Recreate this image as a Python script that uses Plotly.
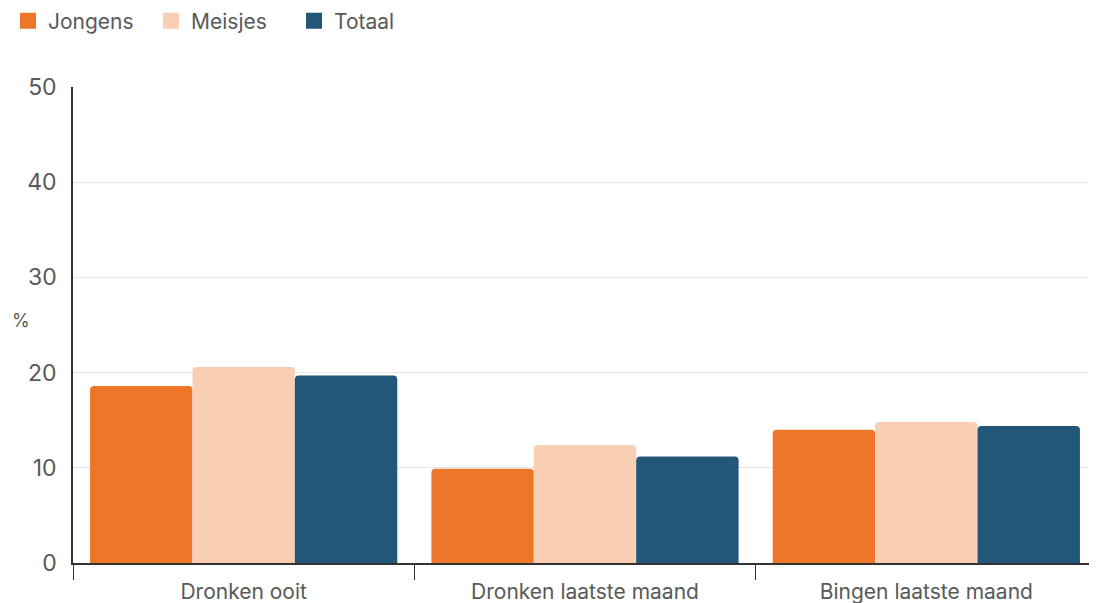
import plotly.graph_objects as go

categories = ["Dronken ooit", "Dronken laatste maand", "Bingen laatste maand"]
jongens = [18.6, 9.9, 14.0]
meisjes = [20.6, 12.4, 14.8]
totaal = [19.7, 11.2, 14.4]
series_names = ["Jongens", "Meisjes", "Totaal"]
colors = ["#EE7628", "#F8CFB3", "#22577A"]

fig = go.Figure()
for name, vals, c in zip(series_names, [jongens, meisjes, totaal], colors):
    fig.add_trace(go.Bar(x=categories, y=vals, name=name, marker_color=c,
                         marker_line_width=0, showlegend=False))
    # legend-only entry with a bigger square symbol
    fig.add_trace(go.Scatter(x=[None], y=[None], mode="markers", name=name,
                             marker=dict(symbol="square", size=16, color=c)))

font = "Inter, Lato, sans-serif"
txt = "#595959"
# page body has an 8px margin, so the figure is sized to fill the rest
fig.update_layout(
    width=1089, height=595,
    barmode="group", bargap=0.1, bargroupgap=0, barcornerradius=4,
    plot_bgcolor="white", paper_bgcolor="white",
    margin=dict(l=65, r=0, t=79, b=40, autoexpand=False),
    font=dict(family=font, size=21, color=txt),
    legend=dict(orientation="h", xref="container", yref="container",
                x=0.0, xanchor="left", y=0.978, yanchor="middle",
                font=dict(size=21, color=txt), itemwidth=30,
                entrywidth=98, traceorder="normal", itemsizing="trace"),
    xaxis=dict(showline=True, linecolor="#333333", linewidth=1.5,
               ticks="outside", tickson="boundaries", ticklen=15,
               tickcolor="#333333", tickfont=dict(size=21, color=txt),
               ticklabelstandoff=9, automargin=False),
    yaxis=dict(range=[0, 50], dtick=10, showline=True, linecolor="#333333",
               linewidth=1.5, showgrid=True, gridcolor="#E6E6E6",
               zeroline=False, ticks="", ticklabelstandoff=10,
               tickfont=dict(size=23, color=txt), automargin=False),
    annotations=[dict(text="%", xref="paper", yref="paper",
                      x=-0.062, y=0.51, xanchor="left", yanchor="middle",
                      showarrow=False, font=dict(size=18, color=txt))],
)
fig.write_html("out.html")
